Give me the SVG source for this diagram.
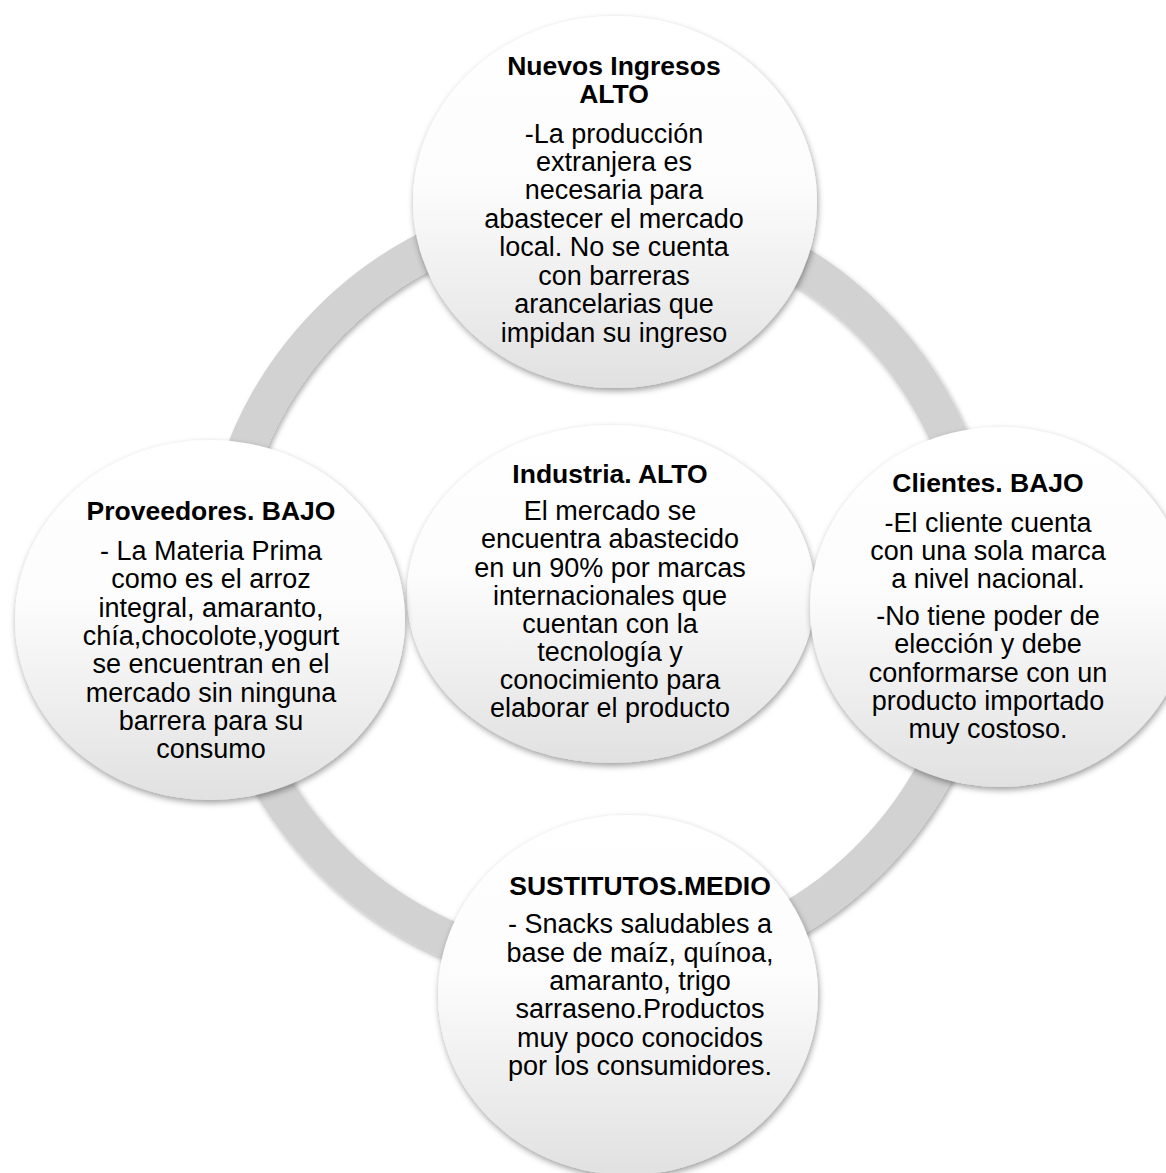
<svg xmlns="http://www.w3.org/2000/svg" width="1166" height="1173" viewBox="0 0 1166 1173">
  <style>
    .t { font-family: "Liberation Sans", Arial, sans-serif; fill: #000; text-anchor: middle; }
    .h { font-size: 26.5px; font-weight: bold; }
    .b { font-size: 27px; }
    .disc { fill: url(#discFill); filter: url(#discShadow); }
  </style>
  <defs>
    <linearGradient id="discFill" x1="0" y1="0" x2="0" y2="1">
      <stop offset="0" stop-color="#ffffff"/>
      <stop offset="0.45" stop-color="#fcfcfc"/>
      <stop offset="1" stop-color="#e1e1e1"/>
    </linearGradient>
    <filter id="discShadow" x="-10%" y="-10%" width="120%" height="125%">
      <feDropShadow dx="1" dy="3" stdDeviation="3" flood-color="#000" flood-opacity="0.38"/>
    </filter>
    <filter id="ringShadow" x="-10%" y="-10%" width="120%" height="120%">
      <feDropShadow dx="2" dy="3" stdDeviation="2.5" flood-color="#000" flood-opacity="0.3"/>
    </filter>
  </defs>

  <!-- connecting ring -->
  <g id="connectors">
    <circle cx="600" cy="590" r="381" fill="none" stroke="#d2d2d2" stroke-width="38" filter="url(#ringShadow)"/>
  </g>

  <g id="node-industria">
    <ellipse class="disc" cx="611" cy="594" rx="204" ry="169"/>
    <text class="t h" x="610" y="483">Industria. ALTO</text>
    <text class="t b" x="610" y="520">El mercado se</text>
    <text class="t b" x="610" y="548">encuentra abastecido</text>
    <text class="t b" x="610" y="577">en un 90% por marcas</text>
    <text class="t b" x="610" y="605">internacionales que</text>
    <text class="t b" x="610" y="633">cuentan con la</text>
    <text class="t b" x="610" y="661">tecnología y</text>
    <text class="t b" x="610" y="689">conocimiento para</text>
    <text class="t b" x="610" y="717">elaborar el producto</text>
  </g>

  <g id="node-nuevos-ingresos">
    <ellipse class="disc" cx="615" cy="202" rx="202" ry="186"/>
    <text class="t h" x="614" y="75">Nuevos Ingresos</text>
    <text class="t h" x="614" y="103">ALTO</text>
    <text class="t b" x="614" y="143">-La producción</text>
    <text class="t b" x="614" y="171">extranjera es</text>
    <text class="t b" x="614" y="199">necesaria para</text>
    <text class="t b" x="614" y="228">abastecer el mercado</text>
    <text class="t b" x="614" y="256">local. No se cuenta</text>
    <text class="t b" x="614" y="285">con barreras</text>
    <text class="t b" x="614" y="313">arancelarias que</text>
    <text class="t b" x="614" y="342">impidan su ingreso</text>
  </g>

  <g id="node-proveedores">
    <ellipse class="disc" cx="210" cy="620" rx="195" ry="180"/>
    <text class="t h" x="211" y="520">Proveedores. BAJO</text>
    <text class="t b" x="211" y="560">- La Materia Prima</text>
    <text class="t b" x="211" y="588">como es el arroz</text>
    <text class="t b" x="211" y="617">integral, amaranto,</text>
    <text class="t b" x="211" y="645">chía,chocolote,yogurt</text>
    <text class="t b" x="211" y="673">se encuentran en el</text>
    <text class="t b" x="211" y="702">mercado sin ninguna</text>
    <text class="t b" x="211" y="730">barrera para su</text>
    <text class="t b" x="211" y="758">consumo</text>
  </g>

  <g id="node-clientes">
    <ellipse class="disc" cx="1000" cy="607" rx="190" ry="180"/>
    <text class="t h" x="988" y="492">Clientes. BAJO</text>
    <text class="t b" x="988" y="532">-El cliente cuenta</text>
    <text class="t b" x="988" y="560">con una sola marca</text>
    <text class="t b" x="988" y="588">a nivel nacional.</text>
    <text class="t b" x="988" y="625">-No tiene poder de</text>
    <text class="t b" x="988" y="653">elección y debe</text>
    <text class="t b" x="988" y="682">conformarse con un</text>
    <text class="t b" x="988" y="710">producto importado</text>
    <text class="t b" x="988" y="738">muy costoso.</text>
  </g>

  <g id="node-sustitutos">
    <ellipse class="disc" cx="628" cy="995" rx="190" ry="180"/>
    <text class="t h" x="640" y="895">SUSTITUTOS.MEDIO</text>
    <text class="t b" x="640" y="933">- Snacks saludables a</text>
    <text class="t b" x="640" y="962">base de maíz, quínoa,</text>
    <text class="t b" x="640" y="990">amaranto, trigo</text>
    <text class="t b" x="640" y="1018">sarraseno.Productos</text>
    <text class="t b" x="640" y="1047">muy poco conocidos</text>
    <text class="t b" x="640" y="1075">por los consumidores.</text>
  </g>
</svg>
